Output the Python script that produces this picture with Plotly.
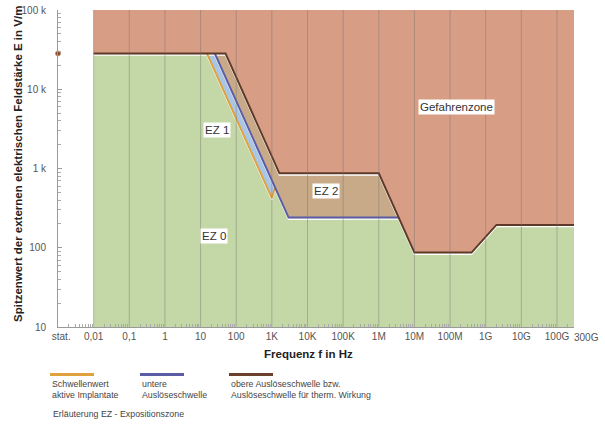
import numpy as np
import plotly.graph_objects as go

# ---------------- data ----------------
# x tick positions (Hz) and labels
x_tick_vals = [10**-2.91, 1e-2, 1e-1, 1, 10, 100, 1e3, 1e4, 1e5, 1e6, 1e7, 1e8, 1e9, 1e10, 1e11]
x_tick_text = ["stat.", "0,01", "0,1", "1", "10", "100", "1K", "10K", "100K", "1M", "10M", "100M", "1G", "10G", "100G"]
x_last_val = 3e11
x_last_text = "300G"
y_tick_vals = [10, 100, 1e3, 1e4, 1e5]
y_tick_text = ["10", "100", "1 k", "10 k", "100 k"]

# static value
stat_f = [1e-3]
stat_E = [28300]

# upper action value (obere Auslöseschwelle)
upper_f = [0.01, 50, 1630, 1e6, 1e7, 4e8, 2e9, 3e11]
upper_E = [28300, 28300, 868, 868, 86.8, 86.8, 194, 194]
# lower action value (untere Auslöseschwelle)
lower_f = [25, 2950, 3.6e6]
lower_E = [28300, 240, 241]
# threshold for active implants
impl_f = [15, 1000, 1230]
impl_E = [28300, 424, 575]

# plot limits
f_min, f_max = 0.01, 3e11
E_min, E_max = 10, 1e5

# zone labels: (text, f, E)
zone_labels = [
    ("EZ 1", 10**1.454, 10**3.484),
    ("EZ 2", 10**4.507, 10**2.717),
    ("EZ 0", 10**1.384, 10**2.153),
    ("Gefahrenzone", 10**8.19, 10**3.777),
]

legend_items = [
    ("#e0a23e", "Schwellenwert<br>aktive Implantate"),
    ("#5b5ba6", "untere<br>Auslöseschwelle"),
    ("#6a3f2c", "obere Auslöseschwelle bzw.<br>Auslöseschwelle für therm. Wirkung"),
]

# ---------------- colours ----------------
C_GREEN = "#c4d7a7"
C_RED = "#d89d85"
C_TAN = "#c8aa88"
C_LBLUE = "#a9c7e5"
C_ORANGE = "#e0a23e"
C_BLUE = "#5b5ba6"
C_BROWN = "#5e3a29"
FONT = "Liberation Sans, Arial, sans-serif"

W, H = 605, 424
L, R, T, B = 58, 31, 10, 97
PW, PH = W - L - R, H - T - B


def px(xp, yp):
    return (xp - L) / PW, (H - B - yp) / PH


fig = go.Figure()

# green background zone
fig.add_trace(go.Scatter(x=[f_min, f_max, f_max, f_min], y=[E_min, E_min, E_max, E_max],
                         fill="toself", fillcolor=C_GREEN, mode="none", hoverinfo="skip"))
# red danger zone above upper line
fig.add_trace(go.Scatter(x=upper_f + [f_max, f_min], y=upper_E + [E_max, E_max],
                         fill="toself", fillcolor=C_RED, mode="none", hoverinfo="skip"))
# EZ 2 (tan) between lower and upper
tan_f = upper_f[1:4] + lower_f[::-1]
tan_E = upper_E[1:4] + lower_E[::-1]
fig.add_trace(go.Scatter(x=tan_f, y=tan_E, fill="toself", fillcolor=C_TAN, mode="none", hoverinfo="skip"))
# EZ 1 (light blue) between implant threshold and lower
lb_f = impl_f + [lower_f[0]]
lb_E = impl_E + [lower_E[0]]
fig.add_trace(go.Scatter(x=lb_f, y=lb_E, fill="toself", fillcolor=C_LBLUE, mode="none", hoverinfo="skip"))

# white shadows under lines
for fx, Ey in [(impl_f, impl_E), (lower_f, lower_E), (upper_f, upper_E)]:
    fig.add_trace(go.Scatter(x=fx, y=[e / 1.045 for e in Ey], mode="lines",
                             line=dict(color="white", width=1.6), hoverinfo="skip"))

fig.add_trace(go.Scatter(x=impl_f, y=impl_E, mode="lines", line=dict(color=C_ORANGE, width=2)))
fig.add_trace(go.Scatter(x=lower_f, y=lower_E, mode="lines", line=dict(color=C_BLUE, width=2)))
fig.add_trace(go.Scatter(x=upper_f, y=upper_E, mode="lines", line=dict(color=C_BROWN, width=2)))
fig.add_trace(go.Scatter(x=stat_f, y=stat_E, mode="markers", cliponaxis=False,
                         marker=dict(color="#7a4a30", size=5, line=dict(color="#c89070", width=1))))

# vertical grid lines above fills (decades)
shapes = []
for v in x_tick_vals[1:]:
    shapes.append(dict(type="line", xref="x", yref="paper", x0=v, x1=v,
                       y0=0, y1=1, line=dict(color="rgba(110,110,110,0.4)", width=1), layer="above"))

annotations = []
for text, f, E in zone_labels:
    annotations.append(dict(x=np.log10(f), y=np.log10(E), xref="x", yref="y", text=text,
                            xanchor="center", yanchor="middle",
                            showarrow=False, bgcolor="white", borderpad=1,
                            font=dict(family=FONT, size=11.5, color="#333")))

# 300G label shifted right
annotations.append(dict(x=np.log10(x_last_val), y=0, xref="x", yref="paper", text=x_last_text,
                        showarrow=False, xshift=12, yshift=-10, xanchor="center", yanchor="middle",
                        font=dict(family=FONT, size=10, color="#555")))

# axis titles
ax, ay = px(308, 354)
annotations.append(dict(x=ax, y=ay, xref="paper", yref="paper", text="<b>Frequenz f in Hz</b>",
                        xanchor="center", yanchor="middle",
                        showarrow=False, font=dict(family=FONT, size=11.5, color="#222")))
ax, ay = px(18, 164)
annotations.append(dict(x=ax, y=ay, xref="paper", yref="paper", textangle=-90,
                        xanchor="center", yanchor="middle",
                        text="<b>Spitzenwert der externen elektrischen Feldstärke E in V/m</b>",
                        showarrow=False, font=dict(family=FONT, size=11.5, color="#222")))

# legend
leg_x = [50, 140, 229]
for (col, txt), lx in zip(legend_items, leg_x):
    x0, y0 = px(lx, 374.5)
    x1, _ = px(lx + 44, 374.5)
    shapes.append(dict(type="line", xref="paper", yref="paper", x0=x0, x1=x1, y0=y0, y1=y0,
                       line=dict(color=col, width=3)))
    tx, ty = px(lx, 389)
    annotations.append(dict(x=tx, y=ty, xref="paper", yref="paper", text=txt, align="left",
                            xanchor="left", yanchor="middle", showarrow=False,
                            font=dict(family=FONT, size=8.8, color="#444")))
tx, ty = px(51, 414)
annotations.append(dict(x=tx, y=ty, xref="paper", yref="paper", text="Erläuterung EZ - Expositionszone",
                        xanchor="left", yanchor="middle", showarrow=False,
                        font=dict(family=FONT, size=8.8, color="#444")))

# explicit minor tick positions (2..9 per decade)
x_minor = [m * 10.0**d for d in range(-3, 12) for m in range(2, 10) if m * 10.0**d < f_max]
y_minor = [m * 10.0**d for d in range(1, 5) for m in range(2, 10)]

fig.update_layout(
    width=W, height=H, margin=dict(l=L, r=R, t=T, b=B, autoexpand=False),
    paper_bgcolor="white", plot_bgcolor="white", showlegend=False,
    shapes=shapes, annotations=annotations,
    font=dict(family=FONT, size=10, color="#555"),
)
fig.update_xaxes(type="log", range=[-3, np.log10(f_max)], tickvals=x_tick_vals, ticktext=x_tick_text,
                 showgrid=False, zeroline=False, showline=True, linecolor="#9a9a9a", linewidth=1,
                 ticks="", layer="above traces", tickfont=dict(size=10, color="#555"), automargin=False,
                 ticklabelstandoff=0,
                 minor=dict(ticks="inside", ticklen=3, tickcolor="#aaa", tickvals=x_minor, showgrid=False))
fig.update_yaxes(type="log", range=[1, 5], tickvals=y_tick_vals, ticktext=y_tick_text,
                 showgrid=False, zeroline=False, showline=True, linecolor="#9a9a9a", linewidth=1,
                 ticks="inside", ticklen=4, tickcolor="#9a9a9a", layer="above traces", automargin=False,
                 tickfont=dict(size=10, color="#555"), ticklabelstandoff=9,
                 minor=dict(ticks="inside", ticklen=3, tickcolor="#aaa", tickvals=y_minor, showgrid=False))

fig.write_html("out.html", config={"displayModeBar": False},
               post_script="document.body.style.margin='0';document.body.style.padding='0';")
